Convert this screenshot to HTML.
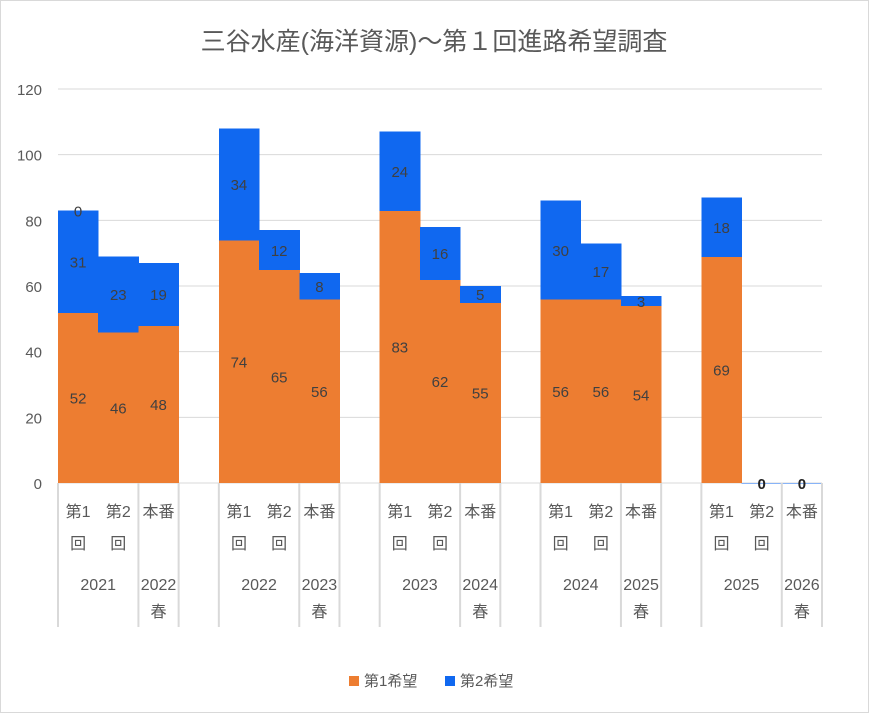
<!DOCTYPE html>
<html><head><meta charset="utf-8"><style>
body{margin:0;background:#fff;}
svg text{font-family:"Liberation Sans","Noto Sans CJK JP",sans-serif;}
</style></head><body>
<svg id="chart" width="869" height="713">
<rect x="0.5" y="0.5" width="868" height="712" fill="#fff" stroke="#d9d9d9"/>
<text x="434" y="50" font-size="25" fill="#595959" text-anchor="middle">三谷水産(海洋資源)～第１回進路希望調査</text>
<g id="grid"></g><g id="bars" shape-rendering="crispEdges"></g><g id="labels"></g><g id="axis"></g>
<g>
<rect x="349" y="676" width="10" height="10" fill="#ED7D31"/>
<text x="364" y="686" font-size="15" fill="#595959">第1希望</text>
<rect x="445" y="676" width="10" height="10" fill="#1068F0"/>
<text x="460" y="686" font-size="15" fill="#595959">第2希望</text>
</g>
</svg>
<script>
const subLabels=["第1|回","第2|回","本番","第1|回","第2|回","本番","第1|回","第2|回","本番","第1|回","第2|回","本番","第1|回","第2|回","本番"];
const groupLabels=["2021","2022","2023","2024","2025"];
const springLabels=["2022|春","2023|春","2024|春","2025|春","2026|春"];
const first=[52,46,48,74,65,56,83,62,55,56,56,54,69,0,0];
const second=[31,23,19,34,12,8,24,16,5,30,17,3,18,0,0];
const yTicks=[0,20,40,60,80,100,120];
const NS="http://www.w3.org/2000/svg";
const X0=58,X1=822,Y0=483,Y1=89,slot=(X1-X0)/19;
const y=v=>Y0-(v/120)*(Y0-Y1);
const slotX=i=>X0+(Math.floor(i/3)*4+(i%3))*slot;
function mk(tag,attrs,parent,txt){const e=document.createElementNS(NS,tag);for(const k in attrs)e.setAttribute(k,attrs[k]);if(txt!==undefined)e.textContent=txt;document.getElementById(parent).appendChild(e);return e;}
yTicks.forEach(t=>{
 const l=mk('line',{x1:X0,x2:X1,y1:y(t),y2:y(t),stroke:'#d9d9d9','stroke-width':1},'grid');
 
 
 const tx=mk('text',{x:42,y:y(t)+6,'font-size':15,fill:'#595959','text-anchor':'end'},'grid',t);
 
 
});
first.forEach((v,i)=>{
 const x=slotX(i);
 const r1=mk('rect',{x:x,y:y(v),width:slot+0.5,height:y(0)-y(v),fill:'#ED7D31'},'bars');
 
 
 const s=second[i];
 const r2=mk('rect',{x:x,y:y(v+s),width:slot+0.5,height:y(v)-y(v+s)+0.5,fill:'#1068F0'},'bars');
 
 
 const cx=x+slot/2;
 if(v>0){const t=mk('text',{x:cx,y:(y(0)+y(v))/2+6,'font-size':15,fill:'#404040','text-anchor':'middle'},'labels',v);
  
  }
 const ty=s>0?(y(v)+y(v+s))/2+6:y(v)+6;
 const t2=mk('text',{x:cx,y:ty,'font-size':15,fill:s>0?'#404040':'#222','text-anchor':'middle','font-weight':s>0?'normal':'bold'},'labels',s);
 
 
});
const t0=mk('text',{x:slotX(0)+slot/2,y:y(first[0]+second[0])+6,'font-size':15,fill:'#404040','text-anchor':'middle'},'labels','0');


const seps=[X0];
for(let g=0;g<5;g++){const b=X0+g*4*slot;seps.push(b+2*slot,b+3*slot);if(g>0)seps.push(b);}
seps.forEach((sx,k)=>{const l=mk('line',{x1:sx,x2:sx,y1:Y0,y2:627,stroke:'#d9d9d9','stroke-width':2},'axis');
 
 });
subLabels.forEach((lab,i)=>{const parts=lab.split('|');parts.forEach((p,j)=>{
 const t=mk('text',{x:slotX(i)+slot/2,y:517+j*32,'font-size':16,fill:'#595959','text-anchor':'middle'},'axis',p);
 
 });});
groupLabels.forEach((g,k)=>{const t=mk('text',{x:X0+k*4*slot+slot,y:590,'font-size':16,fill:'#595959','text-anchor':'middle'},'axis',g);
 
 });
springLabels.forEach((g,k)=>{g.split('|').forEach((p,j)=>{const t=mk('text',{x:X0+k*4*slot+2.5*slot,y:590+j*27,'font-size':16,fill:'#595959','text-anchor':'middle'},'axis',p);
 
 });});
</script>
</body></html>
